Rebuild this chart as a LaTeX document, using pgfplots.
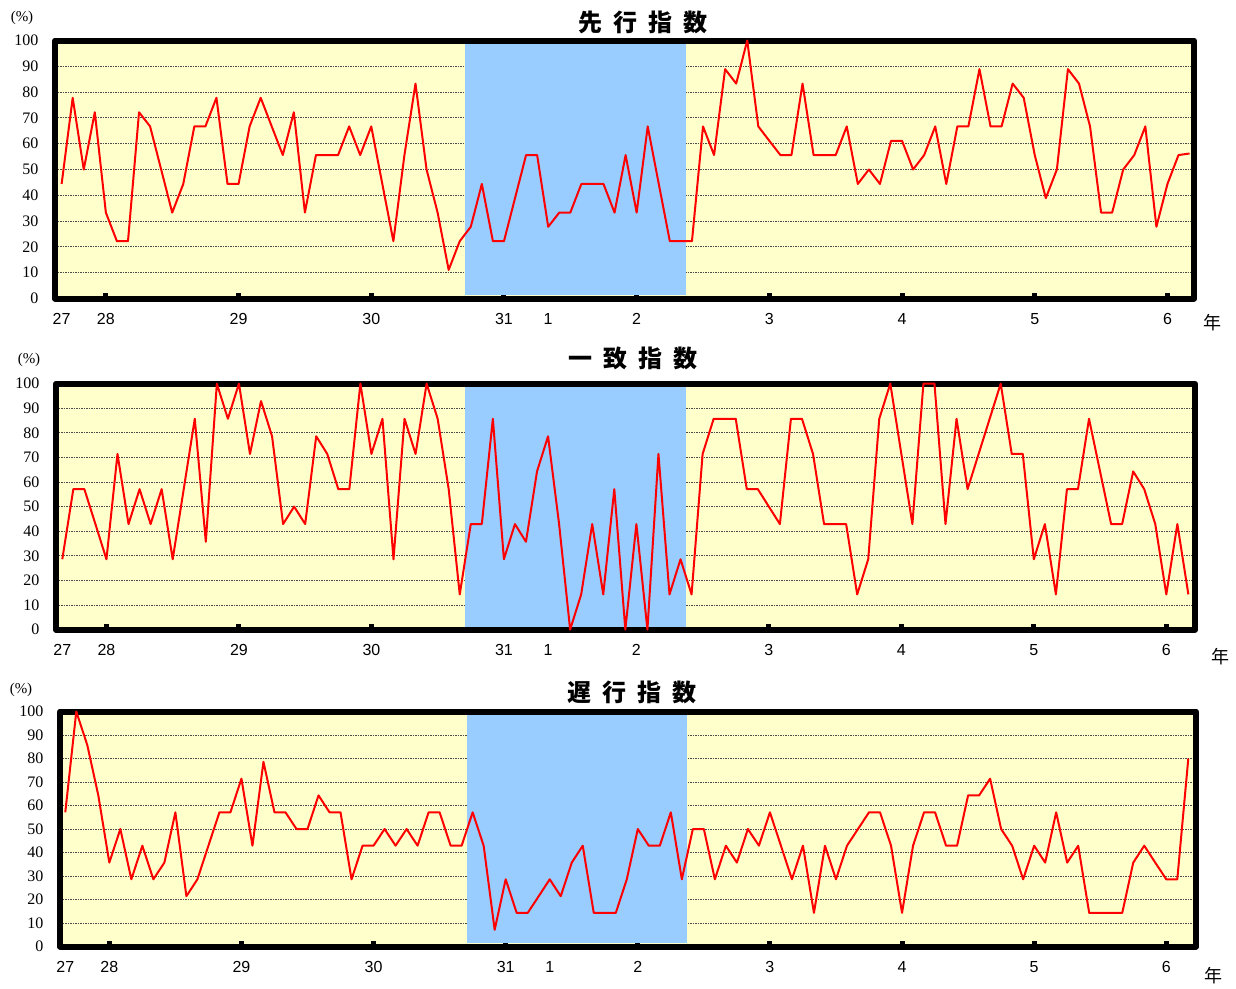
\documentclass[border=0pt]{standalone}
\usepackage{fontspec}
\setmainfont{Liberation Serif}
\newfontfamily\sans{Liberation Sans}
\newfontfamily\jp{Noto Sans CJK JP}
\usepackage{pgfplots}
\usepackage{pgfplotstable}
\pgfplotsset{compat=1.18}

\definecolor{bgyellow}{HTML}{FFFFCC}
\definecolor{recess}{HTML}{99CCFF}
\definecolor{diline}{HTML}{FF0000}

% month index 0 = 2015/9 ... 102 = 2024/3
\pgfplotstableread{
i lead coin lag
0 44.4 28.6 57.1
1 77.8 57.1 100
2 50.0 57.1 85.7
3 72.2 42.9 64.3
4 33.3 28.6 35.7
5 22.2 71.4 50.0
6 22.2 42.9 28.6
7 72.2 57.1 42.9
8 66.7 42.9 28.6
9 50.0 57.1 35.7
10 33.3 28.6 57.1
11 44.4 57.1 21.4
12 66.7 85.7 28.6
13 66.7 35.7 42.9
14 77.8 100 57.1
15 44.4 85.7 57.1
16 44.4 100 71.4
17 66.7 71.4 42.9
18 77.8 92.9 78.6
19 66.7 78.6 57.1
20 55.6 42.9 57.1
21 72.2 50.0 50.0
22 33.3 42.9 50.0
23 55.6 78.6 64.3
24 55.6 71.4 57.1
25 55.6 57.1 57.1
26 66.7 57.1 28.6
27 55.6 100 42.9
28 66.7 71.4 42.9
29 44.4 85.7 50.0
30 22.2 28.6 42.9
31 55.6 85.7 50.0
32 83.3 71.4 42.9
33 50.0 100 57.1
34 33.3 85.7 57.1
35 11.1 57.1 42.9
36 22.2 14.3 42.9
37 27.8 42.9 57.1
38 44.4 42.9 42.9
39 22.2 85.7 7.1
40 22.2 28.6 28.6
41 38.9 42.9 14.3
42 55.6 35.7 14.3
43 55.6 64.3 21.4
44 27.8 78.6 28.6
45 33.3 42.9 21.4
46 33.3 0 35.7
47 44.4 14.3 42.9
48 44.4 42.9 14.3
49 44.4 14.3 14.3
50 33.3 57.1 14.3
51 55.6 0 28.6
52 33.3 42.9 50.0
53 66.7 0 42.9
54 44.4 71.4 42.9
55 22.2 14.3 57.1
56 22.2 28.6 28.6
57 22.2 14.3 50.0
58 66.7 71.4 50.0
59 55.6 85.7 28.6
60 88.9 85.7 42.9
61 83.3 85.7 35.7
62 100 57.1 50.0
63 66.7 57.1 42.9
64 61.1 50.0 57.1
65 55.6 42.9 42.9
66 55.6 85.7 28.6
67 83.3 85.7 42.9
68 55.6 71.4 14.3
69 55.6 42.9 42.9
70 55.6 42.9 28.6
71 66.7 42.9 42.9
72 44.4 14.3 50.0
73 50.0 28.6 57.1
74 44.4 85.7 57.1
75 61.1 100 42.9
76 61.1 71.4 14.3
77 50.0 42.9 42.9
78 55.6 100 57.1
79 66.7 100 57.1
80 44.4 42.9 42.9
81 66.7 85.7 42.9
82 66.7 57.1 64.3
83 88.9 71.4 64.3
84 66.7 85.7 71.4
85 66.7 100 50.0
86 83.3 71.4 42.9
87 77.8 71.4 28.6
88 55.6 28.6 42.9
89 38.9 42.9 35.7
90 50.0 14.3 57.1
91 88.9 57.1 35.7
92 83.3 57.1 42.9
93 66.7 85.7 14.3
94 33.3 64.3 14.3
95 33.3 42.9 14.3
96 50.0 42.9 14.3
97 55.6 64.3 35.7
98 66.7 57.1 42.9
99 27.8 42.9 35.7
100 44.4 14.3 28.6
101 55.6 42.9 28.6
102 56.2 14.3 80.0
}\didata

\pgfplotsset{
  dipanel/.style={
    scale only axis,
    anchor=south west,
    ymin=0, ymax=100,
    ytick={0,10,...,100},
    ymajorgrids,
    grid style={line width=1pt, dash pattern=on 1.5pt off 1pt, black!70},
    axis line style={line width=6pt, line join=round},
    axis background/.style={fill=bgyellow},
    xtick={0,4,16,28,40,44,52,64,76,88,100},
    xticklabels={27,28,29,30,31,1,2,3,4,5,6},
    extra x ticks={4,16,28,40,52,64,76,88,100},
    extra x tick labels={},
    extra x tick style={major tick length=6pt, tick style={line width=5pt, black}},
    major tick length=0pt,
    xtick pos=bottom, ytick pos=left,
    xticklabel style={font=\sans\fontsize{16}{16}\selectfont, yshift=-11pt},
    yticklabel style={font=\fontsize{16}{16}\selectfont, xshift=-13pt},
    /pgf/number format/assume math mode=true,
    clip=false,
  },
  diplot/.style={diline, line width=2pt, line join=round},
  shadeplot/.style={fill=recess, draw=none, forget plot},
}
\newcommand\ttl[1]{\jp\bfseries\fontsize{24}{24}\selectfont #1}
\newcommand\gap{\hspace{0.45em}}

\begin{document}
\begin{tikzpicture}
\path[use as bounding box] (0pt,0pt) rectangle (1236pt,-988pt);

% --- leading index
\begin{axis}[dipanel, at={(55pt,-298.5pt)}, width=1139pt, height=258pt,
  xmin=-0.6, xmax=102.4]
\addplot[shadeplot] coordinates {(36.5,1.2) (36.5,98.8) (56.5,98.8) (56.5,1.2)} -- cycle;
\addplot[diplot] table[x=i, y=lead] {\didata};
\end{axis}
\node at (643pt,-22pt) {\ttl{先\gap 行\gap 指\gap 数}};
\node[font=\fontsize{15}{15}\selectfont] at (22pt,-18pt) {(\%)};
\node[font=\jp\fontsize{18}{18}\selectfont] at (1212pt,-323pt) {年};

% --- coincident index
\begin{axis}[dipanel, at={(56pt,-629.6pt)}, width=1139pt, height=246pt,
  xmin=-0.57, xmax=102.6]
\addplot[shadeplot] coordinates {(36.5,1.2) (36.5,98.8) (56.5,98.8) (56.5,1.2)} -- cycle;
\addplot[diplot] table[x=i, y=coin] {\didata};
\end{axis}
\node at (633pt,-358pt) {\ttl{一\gap 致\gap 指\gap 数}};
\node[font=\fontsize{15}{15}\selectfont] at (29pt,-360pt) {(\%)};
\node[font=\jp\fontsize{18}{18}\selectfont] at (1220pt,-657pt) {年};

% --- lagging index
\begin{axis}[dipanel, at={(60pt,-946.5pt)}, width=1136pt, height=235pt,
  xmin=-0.48, xmax=102.7]
\addplot[shadeplot] coordinates {(36.5,1.3) (36.5,98.7) (56.5,98.7) (56.5,1.3)} -- cycle;
\addplot[diplot] table[x=i, y=lag] {\didata};
\end{axis}
\node at (632pt,-692pt) {\ttl{遅\gap 行\gap 指\gap 数}};
\node[font=\fontsize{15}{15}\selectfont] at (21pt,-690pt) {(\%)};
\node[font=\jp\fontsize{18}{18}\selectfont] at (1213pt,-976pt) {年};
\end{tikzpicture}
\end{document}
